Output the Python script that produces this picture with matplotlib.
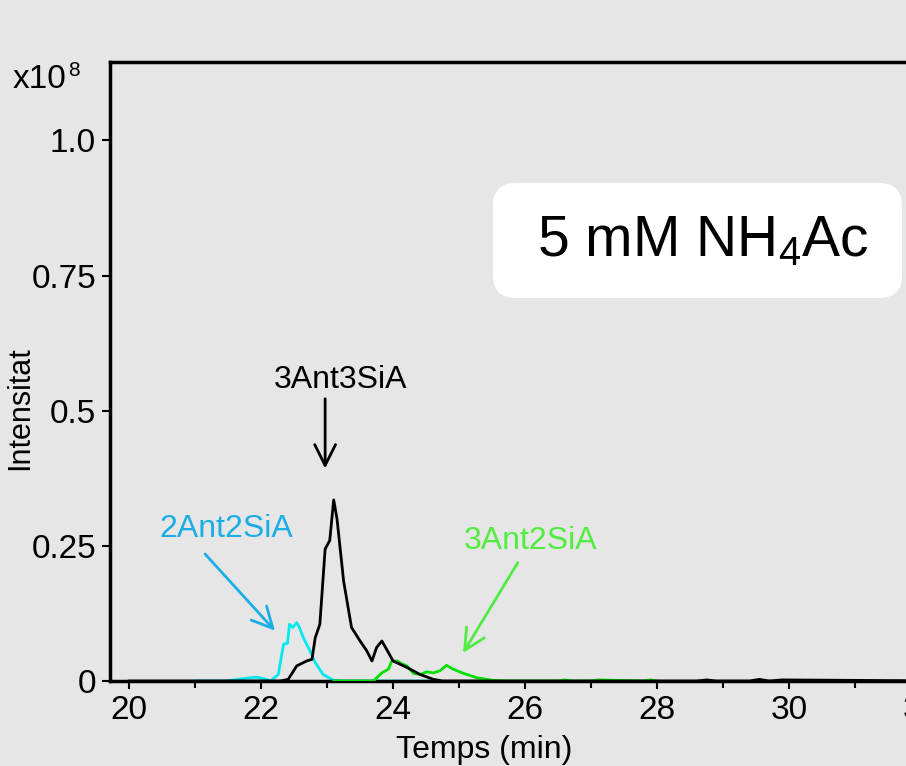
import matplotlib
matplotlib.use("Agg")
import matplotlib.pyplot as plt
from matplotlib.patches import FancyBboxPatch

plt.rcParams['font.family'] = ['Liberation Sans', 'DejaVu Sans']
plt.rcParams['mathtext.fontset'] = 'custom'
plt.rcParams['mathtext.rm'] = 'Liberation Sans'

# retention time (min) / intensity (x1e8)
t_3ant3sia = [20.0, 22.2, 22.29, 22.41, 22.54, 22.69, 22.77, 22.82, 22.89, 22.97, 23.04,
              23.10, 23.15, 23.25, 23.37, 23.50, 23.60, 23.68, 23.75, 23.83, 23.90,
              24.00, 24.21, 24.41, 24.61, 24.75, 25.5, 28.6, 28.75, 28.9, 29.4,
              29.55, 29.7, 29.9, 32.5]
i_3ant3sia = [0.0, 0.0, 0.0, 0.003, 0.028, 0.037, 0.040, 0.080, 0.105, 0.244, 0.260,
              0.335, 0.300, 0.185, 0.099, 0.074, 0.056, 0.037, 0.062, 0.074, 0.059,
              0.037, 0.025, 0.012, 0.003, 0.0, 0.0, 0.0, 0.002, 0.0, 0.0,
              0.003, 0.0, 0.002, 0.0]

t_2ant2sia = [21.0, 21.48, 21.65, 21.83, 21.93, 22.05, 22.14, 22.26, 22.34, 22.40, 22.43,
              22.48, 22.54, 22.58, 22.64, 22.74, 22.82, 22.94, 23.10, 23.3, 24.7]
i_2ant2sia = [0.0, 0.0, 0.003, 0.006, 0.007, 0.004, 0.0, 0.012, 0.068, 0.070, 0.105,
              0.099, 0.108, 0.099, 0.080, 0.056, 0.034, 0.012, 0.001, 0.0, 0.0]

t_3ant2sia = [23.1, 23.70, 23.83, 23.93, 23.98, 24.06, 24.13, 24.21, 24.31, 24.41, 24.51,
              24.61, 24.71, 24.81, 24.91, 25.07, 25.27, 25.52, 25.7, 26.5, 26.6, 26.7,
              27.0, 27.1, 27.8, 27.9, 28.0]
i_3ant2sia = [0.0, 0.0, 0.015, 0.022, 0.037, 0.037, 0.032, 0.028, 0.014, 0.012, 0.017,
              0.015, 0.019, 0.029, 0.022, 0.014, 0.006, 0.001, 0.0, 0.0, 0.002, 0.0,
              0.0, 0.002, 0.0, 0.002, 0.0]

x_ticks = [20, 22, 24, 26, 28, 30, 32]
y_ticks = [0, 0.25, 0.5, 0.75, 1.0]
y_tick_labels = ['0', '0.25', '0.5', '0.75', '1.0']

# peak labels: (text, text position, arrow tail, arrow head, colour)
labels = [
    ('3Ant3SiA', (23.20, 0.556), (22.97, 0.522), (22.97, 0.393), 'black'),
    ('2Ant2SiA', (21.47, 0.281), (21.15, 0.235), (22.21, 0.093), '#1aaee6'),
    ('3Ant2SiA', (26.09, 0.259), (25.89, 0.219), (25.06, 0.052), '#50ec40'),
]

bg = '#e6e6e6'
W, H = 906, 766
fig = plt.figure(figsize=(W/100, H/100), dpi=100, facecolor=bg)
ax = fig.add_axes([110/W, 1 - 681/H, 877/W, 619/H], facecolor=bg)

ax.plot(t_2ant2sia, i_2ant2sia, color='#00e8f0', lw=2.0, zorder=2)
ax.plot(t_3ant2sia, i_3ant2sia, color='#00e000', lw=2.0, zorder=3)
ax.plot(t_3ant3sia, i_3ant3sia, color='black', lw=2.0, zorder=4)

ax.set_xlim(19.71, 33.0)
ax.set_ylim(0, 1.145)
ax.set_xticks(x_ticks)
ax.set_xticks([21, 23, 25, 27, 29, 31], minor=True)
ax.set_yticks(y_ticks)
ax.set_yticklabels(y_tick_labels)
ax.tick_params(axis='both', which='major', labelsize=24, length=6, width=1.5, direction='out')
ax.tick_params(axis='x', which='minor', length=5, width=1.5, direction='out')
ax.tick_params(axis='x', pad=4)
ax.tick_params(axis='y', pad=4)
for s in ['left', 'top', 'bottom', 'right']:
    ax.spines[s].set_linewidth(2.5)

# axis titles placed as in the cropped original
fig.text(484/W, 1 - 750/H, 'Temps (min)', fontsize=23, ha='center', va='center')
fig.text(20/W, 1 - 408/H, 'Intensitat', fontsize=22, ha='center', va='center', rotation=90)
fig.text(13/W, 1 - 80/H, 'x10', fontsize=24, va='center', ha='left')
fig.text(68/W, 1 - 70/H, '8', fontsize=15, va='center', ha='left')

for txt, pos, tail, head, col in labels:
    ax.text(pos[0], pos[1], txt, fontsize=23, color=col, ha='center', va='center')
    ax.annotate('', xy=head, xytext=tail,
                arrowprops=dict(arrowstyle='->, head_length=1.0, head_width=0.5',
                                mutation_scale=15, lw=2.0, color=col,
                                shrinkA=0, shrinkB=0))

box = FancyBboxPatch((493/W, 1 - 298/H), 409/W, 115/H, transform=fig.transFigure,
                     boxstyle='round,pad=0,rounding_size=0.025', fc='white', ec='none',
                     mutation_aspect=W/H)
fig.patches.append(box)
fig.text(703/W, 1 - 242/H, r'5 mM NH$_4$Ac', fontsize=41, ha='center', va='center')

fig.savefig('out.png', dpi=100, facecolor=bg)
